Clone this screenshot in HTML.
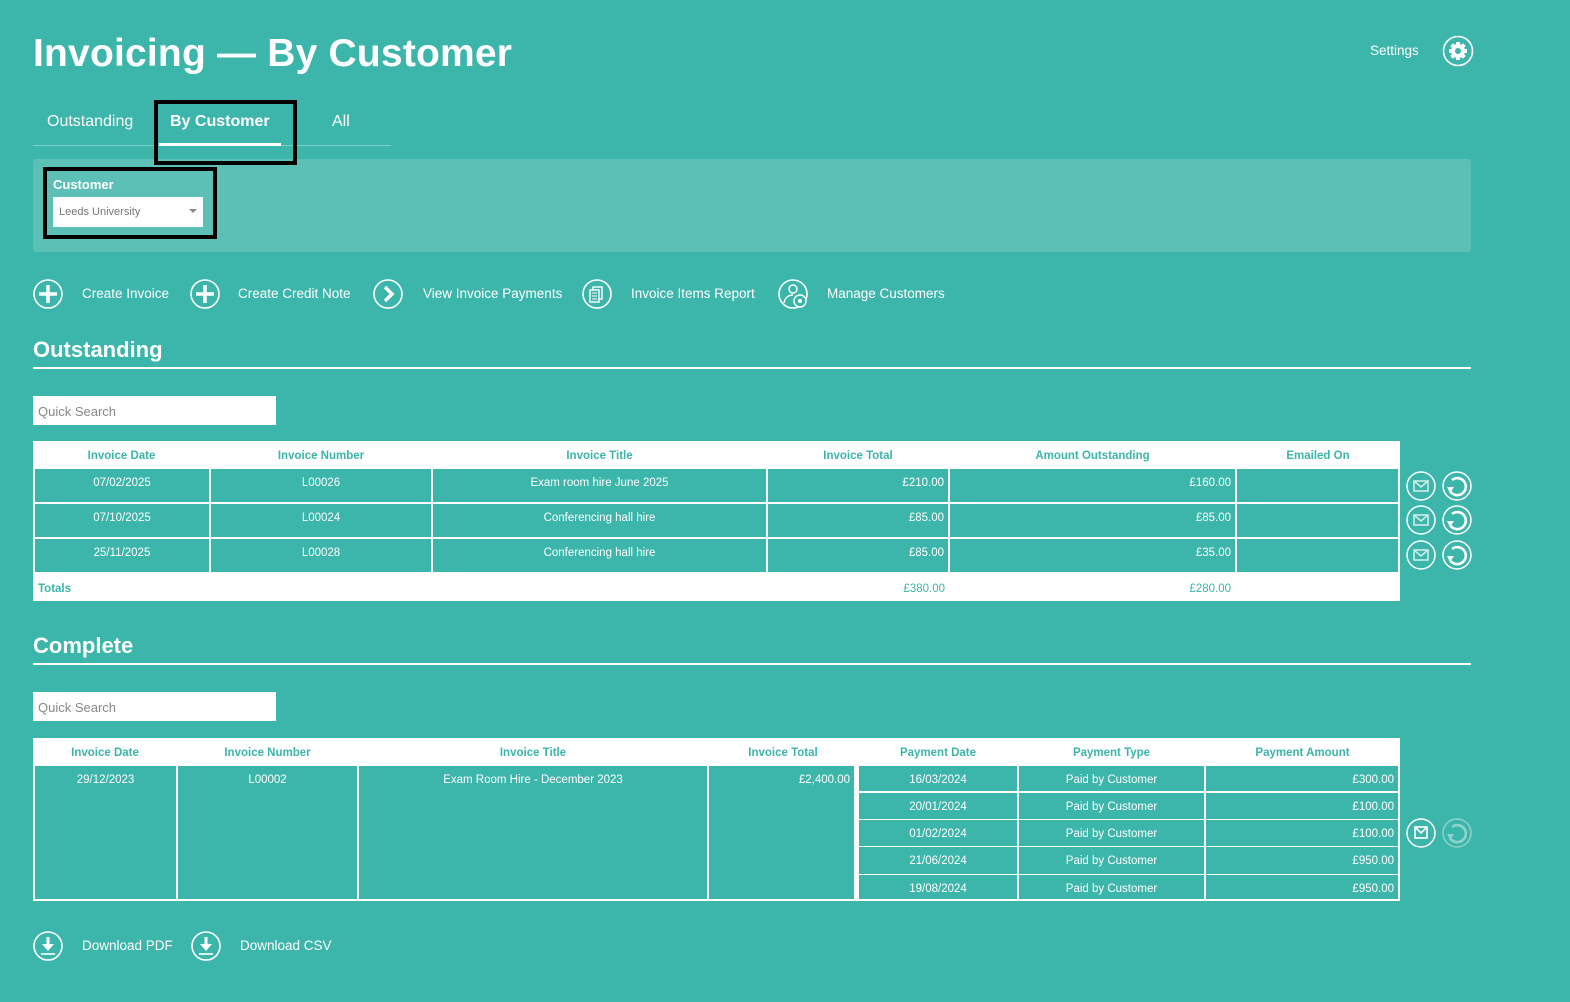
<!DOCTYPE html>
<html><head><meta charset="utf-8"><style>
*{margin:0;padding:0;box-sizing:border-box}
body{width:1570px;height:1002px;background:#3cb5aa;font-family:"Liberation Sans","DejaVu Sans",sans-serif;color:#fff;position:relative;overflow:hidden}
.a{position:absolute}
.w{background:#fff}
.c{position:absolute;background:#3cb5aa;font-size:11.5px;color:#fff;padding-top:8px;white-space:nowrap}
.h{position:absolute;color:#3cb5aa;font-weight:bold;font-size:11.5px;text-align:center;white-space:nowrap}
.ctr{text-align:center}.rt{text-align:right;padding-right:4px}
.lbl{font-size:13.5px;position:absolute;white-space:nowrap}
</style></head><body>
<div class="a" style="left:33px;top:32px;font-size:39px;font-weight:bold;letter-spacing:0.2px">Invoicing — By Customer</div>
<div class="lbl" style="left:1370px;top:43px">Settings</div>
<svg class="a" style="left:1442px;top:35px" width="32" height="32"><circle cx="16" cy="16" r="14.5" fill="none" stroke="#fff" stroke-width="1.6"/><g fill="#fff"><circle cx="16" cy="16" r="7"/><rect x="14" y="7" width="4" height="18"/><rect x="7" y="14" width="18" height="4"/><rect x="14" y="7" width="4" height="18" transform="rotate(45 16 16)"/><rect x="14" y="7" width="4" height="18" transform="rotate(-45 16 16)"/></g><circle cx="16" cy="16" r="3" fill="#3cb5aa"/></svg>

<div class="a" style="left:33px;top:145px;width:358px;height:1px;background:#7fd0c8"></div>
<div class="lbl" style="left:47px;top:113px;font-size:16px">Outstanding</div>
<div class="lbl" style="left:170px;top:113px;font-size:16px;font-weight:bold">By Customer</div>
<div class="a" style="left:159px;top:143px;width:122px;height:3px;background:#fff"></div>
<div class="lbl" style="left:332px;top:113px;font-size:16px">All</div>

<div class="a" style="left:33px;top:159px;width:1438px;height:93px;background:#5dc0b6;border-radius:3px"></div>
<div class="a" style="left:154px;top:100px;width:143px;height:65px;border:4px solid #000"></div>
<div class="a" style="left:53px;top:177px;font-size:13px;font-weight:bold">Customer</div>
<div class="a w" style="left:53px;top:197px;width:150px;height:30px;color:#777;font-size:11px;padding:9px 6px">Leeds University</div>
<div class="a" style="left:189px;top:209px;border-left:4px solid transparent;border-right:4px solid transparent;border-top:4px solid #888"></div>
<div class="a" style="left:43px;top:167px;width:174px;height:72px;border:4px solid #000"></div>

<!-- action bar -->
<svg class="a" style="left:33px;top:279px" width="32" height="32"><circle cx="15" cy="15" r="14" fill="none" stroke="#fff" stroke-width="1.6"/><path d="M15 6v18M6 15h18" stroke="#fff" stroke-width="3.5"/></svg>
<div class="lbl" style="left:82px;top:286px">Create Invoice</div>
<svg class="a" style="left:190px;top:279px" width="32" height="32"><circle cx="15" cy="15" r="14" fill="none" stroke="#fff" stroke-width="1.6"/><path d="M15 6v18M6 15h18" stroke="#fff" stroke-width="3.5"/></svg>
<div class="lbl" style="left:238px;top:286px">Create Credit Note</div>
<svg class="a" style="left:373px;top:279px" width="32" height="32"><circle cx="15" cy="15" r="14" fill="none" stroke="#fff" stroke-width="1.6"/><path d="M12 8l7 7-7 7" fill="none" stroke="#fff" stroke-width="3.5"/></svg>
<div class="lbl" style="left:423px;top:286px">View Invoice Payments</div>
<svg class="a" style="left:582px;top:279px" width="32" height="32"><circle cx="15" cy="15" r="14" fill="none" stroke="#fff" stroke-width="1.6"/><rect x="11" y="8" width="9" height="12" fill="none" stroke="#fff" stroke-width="1.4"/><rect x="8" y="11" width="9" height="12" fill="#3cb5aa" stroke="#fff" stroke-width="1.4"/><path d="M10 14h5M10 17h5M10 20h5" stroke="#fff"/></svg>
<div class="lbl" style="left:631px;top:286px">Invoice Items Report</div>
<svg class="a" style="left:778px;top:279px" width="32" height="32"><circle cx="15" cy="15" r="14" fill="none" stroke="#fff" stroke-width="1.6"/><circle cx="15" cy="10" r="4" fill="none" stroke="#fff" stroke-width="1.4"/><path d="M6 24c1-6 5-8 9-8" fill="none" stroke="#fff" stroke-width="1.4"/><circle cx="22" cy="22" r="6" fill="#3cb5aa" stroke="#fff" stroke-width="1.4"/><circle cx="22" cy="22" r="2" fill="#fff"/></svg>
<div class="lbl" style="left:827px;top:286px">Manage Customers</div>

<!-- Outstanding -->
<div class="a" style="left:33px;top:337px;font-size:22px;font-weight:bold">Outstanding</div>
<div class="a" style="left:33px;top:367px;width:1438px;height:2px;background:#fff"></div>
<div class="a w" style="left:33px;top:396px;width:243px;height:29px;color:#888;font-size:13px;padding:8px 5px">Quick Search</div>

<div class="a w" style="left:33px;top:441px;width:1367px;height:160px"></div>
<div class="h" style="left:33px;top:450px;width:177px">Invoice Date</div>
<div class="h" style="left:210px;top:450px;width:222px">Invoice Number</div>
<div class="h" style="left:432px;top:450px;width:335px">Invoice Title</div>
<div class="h" style="left:767px;top:450px;width:182px">Invoice Total</div>
<div class="h" style="left:949px;top:450px;width:287px">Amount Outstanding</div>
<div class="h" style="left:1236px;top:450px;width:164px">Emailed On</div>

<div class="c ctr" style="left:35px;top:469px;width:174px;height:33px">07/02/2025</div>
<div class="c ctr" style="left:211px;top:469px;width:220px;height:33px">L00026</div>
<div class="c ctr" style="left:433px;top:469px;width:333px;height:33px">Exam room hire June 2025</div>
<div class="c rt" style="left:768px;top:469px;width:180px;height:33px">£210.00</div>
<div class="c rt" style="left:950px;top:469px;width:285px;height:33px">£160.00</div>
<div class="c" style="left:1237px;top:469px;width:161px;height:33px"></div>

<div class="c ctr" style="left:35px;top:504px;width:174px;height:33px">07/10/2025</div>
<div class="c ctr" style="left:211px;top:504px;width:220px;height:33px">L00024</div>
<div class="c ctr" style="left:433px;top:504px;width:333px;height:33px">Conferencing hall hire</div>
<div class="c rt" style="left:768px;top:504px;width:180px;height:33px">£85.00</div>
<div class="c rt" style="left:950px;top:504px;width:285px;height:33px">£85.00</div>
<div class="c" style="left:1237px;top:504px;width:161px;height:33px"></div>

<div class="c ctr" style="left:35px;top:539px;width:174px;height:33px">25/11/2025</div>
<div class="c ctr" style="left:211px;top:539px;width:220px;height:33px">L00028</div>
<div class="c ctr" style="left:433px;top:539px;width:333px;height:33px">Conferencing hall hire</div>
<div class="c rt" style="left:768px;top:539px;width:180px;height:33px">£85.00</div>
<div class="c rt" style="left:950px;top:539px;width:285px;height:33px">£35.00</div>
<div class="c" style="left:1237px;top:539px;width:161px;height:33px"></div>

<div class="h" style="left:38px;top:583px;text-align:left">Totals</div>
<div class="h" style="left:768px;top:583px;width:177px;text-align:right;font-weight:normal">£380.00</div>
<div class="h" style="left:950px;top:583px;width:281px;text-align:right;font-weight:normal">£280.00</div>

<!-- row icons -->
<svg class="a" style="left:1405px;top:471px" width="70" height="100">
<defs><g id="rf"><path d="M-7 5A8.5 8.5 0 1 0 -5 -6" fill="none" stroke="#fff" stroke-width="2.6"/><path d="M-10 1l7 0 -4 6z" fill="#fff"/></g></defs>
<g fill="none" stroke="#fff" stroke-width="1.5">
<circle cx="16" cy="15" r="14"/><circle cx="52" cy="15" r="14"/>
<circle cx="16" cy="49" r="14"/><circle cx="52" cy="49" r="14"/>
<circle cx="16" cy="84" r="14"/><circle cx="52" cy="84" r="14"/>
</g>
<g fill="none" stroke="#cdeeea" stroke-width="1.6">
<rect x="9" y="10" width="14" height="10"/><path d="M9 10l7 6 7-6"/>
<rect x="9" y="44" width="14" height="10"/><path d="M9 44l7 6 7-6"/>
<rect x="9" y="79" width="14" height="10"/><path d="M9 79l7 6 7-6"/>
</g>
<use href="#rf" x="52" y="15"/><use href="#rf" x="52" y="49"/><use href="#rf" x="52" y="84"/>
</svg>

<!-- Complete -->
<div class="a" style="left:33px;top:633px;font-size:22px;font-weight:bold">Complete</div>
<div class="a" style="left:33px;top:663px;width:1438px;height:2px;background:#fff"></div>
<div class="a w" style="left:33px;top:692px;width:243px;height:29px;color:#888;font-size:13px;padding:8px 5px">Quick Search</div>

<div class="a w" style="left:33px;top:738px;width:1367px;height:163px"></div>
<div class="h" style="left:33px;top:747px;width:144px">Invoice Date</div>
<div class="h" style="left:177px;top:747px;width:181px">Invoice Number</div>
<div class="h" style="left:358px;top:747px;width:350px">Invoice Title</div>
<div class="h" style="left:708px;top:747px;width:150px">Invoice Total</div>
<div class="h" style="left:858px;top:747px;width:160px">Payment Date</div>
<div class="h" style="left:1018px;top:747px;width:187px">Payment Type</div>
<div class="h" style="left:1205px;top:747px;width:195px">Payment Amount</div>

<div class="c ctr" style="left:35px;top:766px;width:141px;height:133px">29/12/2023</div>
<div class="c ctr" style="left:178px;top:766px;width:179px;height:133px">L00002</div>
<div class="c ctr" style="left:359px;top:766px;width:348px;height:133px">Exam Room Hire - December 2023</div>
<div class="c rt" style="left:709px;top:766px;width:145px;height:133px">£2,400.00</div>

<div class="c ctr" style="left:859px;top:766px;width:158px;height:25px">16/03/2024</div>
<div class="c ctr" style="left:1019px;top:766px;width:185px;height:25px">Paid by Customer</div>
<div class="c rt" style="left:1206px;top:766px;width:192px;height:25px">£300.00</div>
<div class="c ctr" style="left:859px;top:793px;width:158px;height:26px">20/01/2024</div>
<div class="c ctr" style="left:1019px;top:793px;width:185px;height:26px">Paid by Customer</div>
<div class="c rt" style="left:1206px;top:793px;width:192px;height:26px">£100.00</div>
<div class="c ctr" style="left:859px;top:820px;width:158px;height:26px">01/02/2024</div>
<div class="c ctr" style="left:1019px;top:820px;width:185px;height:26px">Paid by Customer</div>
<div class="c rt" style="left:1206px;top:820px;width:192px;height:26px">£100.00</div>
<div class="c ctr" style="left:859px;top:847px;width:158px;height:27px">21/06/2024</div>
<div class="c ctr" style="left:1019px;top:847px;width:185px;height:27px">Paid by Customer</div>
<div class="c rt" style="left:1206px;top:847px;width:192px;height:27px">£950.00</div>
<div class="c ctr" style="left:859px;top:875px;width:158px;height:24px">19/08/2024</div>
<div class="c ctr" style="left:1019px;top:875px;width:185px;height:24px">Paid by Customer</div>
<div class="c rt" style="left:1206px;top:875px;width:192px;height:24px">£950.00</div>

<svg class="a" style="left:1405px;top:817px" width="70" height="32">
<circle cx="16" cy="16" r="14" fill="none" stroke="#fff" stroke-width="1.5"/>
<rect x="10" y="10" width="12" height="11" fill="none" stroke="#fff" stroke-width="1.6"/><path d="M10 10l6 6 6-6" fill="none" stroke="#fff" stroke-width="1.6"/>
<circle cx="52" cy="16" r="14" fill="none" stroke="#8fd3cc" stroke-width="1.5"/>
<path d="M45 21A8.5 8.5 0 1 0 47 10" fill="none" stroke="#8fd3cc" stroke-width="2.6"/><path d="M42 17l7 0 -4 6z" fill="#8fd3cc"/>
</svg>

<!-- downloads -->
<svg class="a" style="left:33px;top:931px" width="32" height="32"><circle cx="15" cy="15" r="14" fill="none" stroke="#fff" stroke-width="1.6"/><path d="M15 6v12" stroke="#fff" stroke-width="3"/><path d="M9 13l6 7 6-7z" fill="#fff"/><path d="M8 23h14" stroke="#fff" stroke-width="1.6"/></svg>
<div class="lbl" style="left:82px;top:938px">Download PDF</div>
<svg class="a" style="left:191px;top:931px" width="32" height="32"><circle cx="15" cy="15" r="14" fill="none" stroke="#fff" stroke-width="1.6"/><path d="M15 6v12" stroke="#fff" stroke-width="3"/><path d="M9 13l6 7 6-7z" fill="#fff"/><path d="M8 23h14" stroke="#fff" stroke-width="1.6"/></svg>
<div class="lbl" style="left:240px;top:938px">Download CSV</div>
</body></html>
